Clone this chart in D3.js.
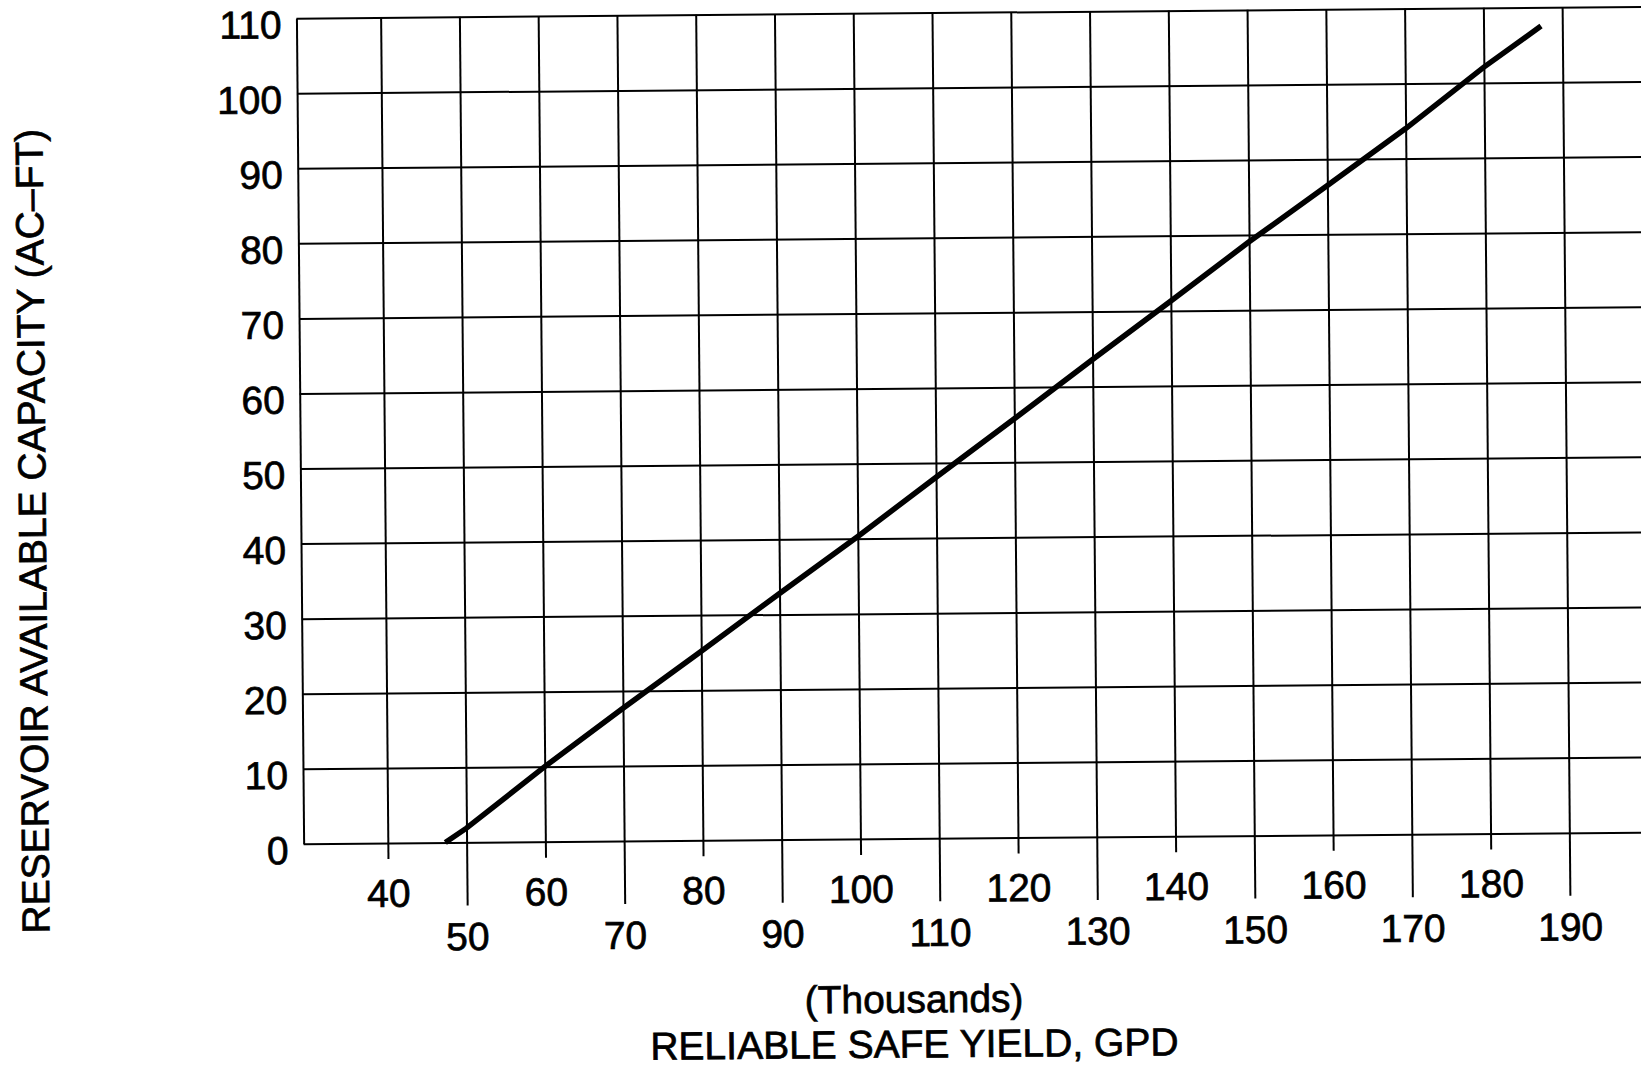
<!DOCTYPE html>
<meta charset="UTF-8">

<!-- Load d3.js -->
<script src="https://d3js.org/d3.v7.min.js"></script>

<style>
  body { margin: 0; background: #fff; }
  /* scanned print looks a bit heavier than plain Arial */
  text { font-family: "Liberation Sans", Arial, Helvetica, sans-serif; fill: #000; stroke: #000; stroke-width: 0.7px; }
</style>

<svg id="chart" width="1641" height="1069"></svg>

<script>

// Data (yield in thousands of GPD, capacity in AC-FT)
var yieldK   = [47.3, 50, 60, 70, 80, 90, 100, 110, 120, 130, 140, 150, 160, 170, 180, 187.3];
var capacity = [0, 1.9, 10.0, 17.7, 25.2, 32.8, 40.3, 48.1, 55.8, 63.6, 71.3, 79.1, 86.5, 94.0, 102.1, 107.5];

// tick labels
var xTicksUpper = [40, 60, 80, 100, 120, 140, 160, 180];
var xTicksLower = [50, 70, 90, 110, 130, 150, 170, 190];
var yTicks = [0, 10, 20, 30, 40, 50, 60, 70, 80, 90, 100, 110];

var svg = d3.select("#chart"),
  width = +svg.attr("width"),
  height = +svg.attr("height");

// plot box (window.top is taken, so prefixed names)
var plotL = 300, plotR = 1652, plotT = 12.3, plotB = 838;

var x = d3.scaleLinear()
  .domain([29.31, 29.31 + (plotR - plotL) / 7.877])
  .range([plotL, plotR]);

var y = d3.scaleLinear()
  .domain([0, 110])
  .range([plotB, plotT]);

// the scanned sheet sits a little crooked
var g = svg.append("g")
  .attr("transform", "rotate(-0.5, 970, 425)");

// y axis with grid lines across the plot
var yAxis = g.append("g")
  .attr("transform", "translate(" + plotL + ",0)")
  .call(d3.axisLeft(y)
    .tickValues(yTicks)
    .tickSizeInner(-(plotR - plotL))
    .tickSizeOuter(0)
    .tickPadding(15));

yAxis.selectAll("text")
  .attr("y", 7)
  .style("font-size", "39px");

// x axis, two staggered rows of labels
function xRow(ticks, ext, pad) {
  var a = g.append("g")
    .attr("transform", "translate(0," + (plotB + ext) + ")")
    .call(d3.axisBottom(x)
      .tickValues(ticks)
      .tickSizeInner(-(plotB - plotT + ext))
      .tickSizeOuter(0)
      .tickPadding(pad));
  a.select(".domain").remove();
  a.selectAll("text").style("font-size", "39px");
  return a;
}
xRow(xTicksUpper, 16, 20);
xRow(xTicksLower, 63, 17);

g.selectAll(".tick line, .domain")
  .attr("stroke", "#000")
  .attr("stroke-width", 2);

// the curve
var line = d3.line()
  .x(function(d, i) { return x(yieldK[i]); })
  .y(function(d) { return y(d); });

g.append("path")
  .datum(capacity)
  .attr("d", line)
  .attr("fill", "none")
  .attr("stroke", "#000")
  .attr("stroke-width", 5.5);

// axis titles
g.append("text")
  .attr("transform", "translate(45,523) rotate(-90)")
  .attr("text-anchor", "middle")
  .style("font-size", "39px")
  .text("RESERVOIR AVAILABLE CAPACITY (AC\u2013FT)");

g.append("text")
  .attr("x", 909)
  .attr("y", 1012)
  .attr("text-anchor", "middle")
  .style("font-size", "39px")
  .text("(Thousands)");

g.append("text")
  .attr("x", 909)
  .attr("y", 1057)
  .attr("text-anchor", "middle")
  .style("font-size", "39px")
  .text("RELIABLE SAFE YIELD, GPD");

</script>
